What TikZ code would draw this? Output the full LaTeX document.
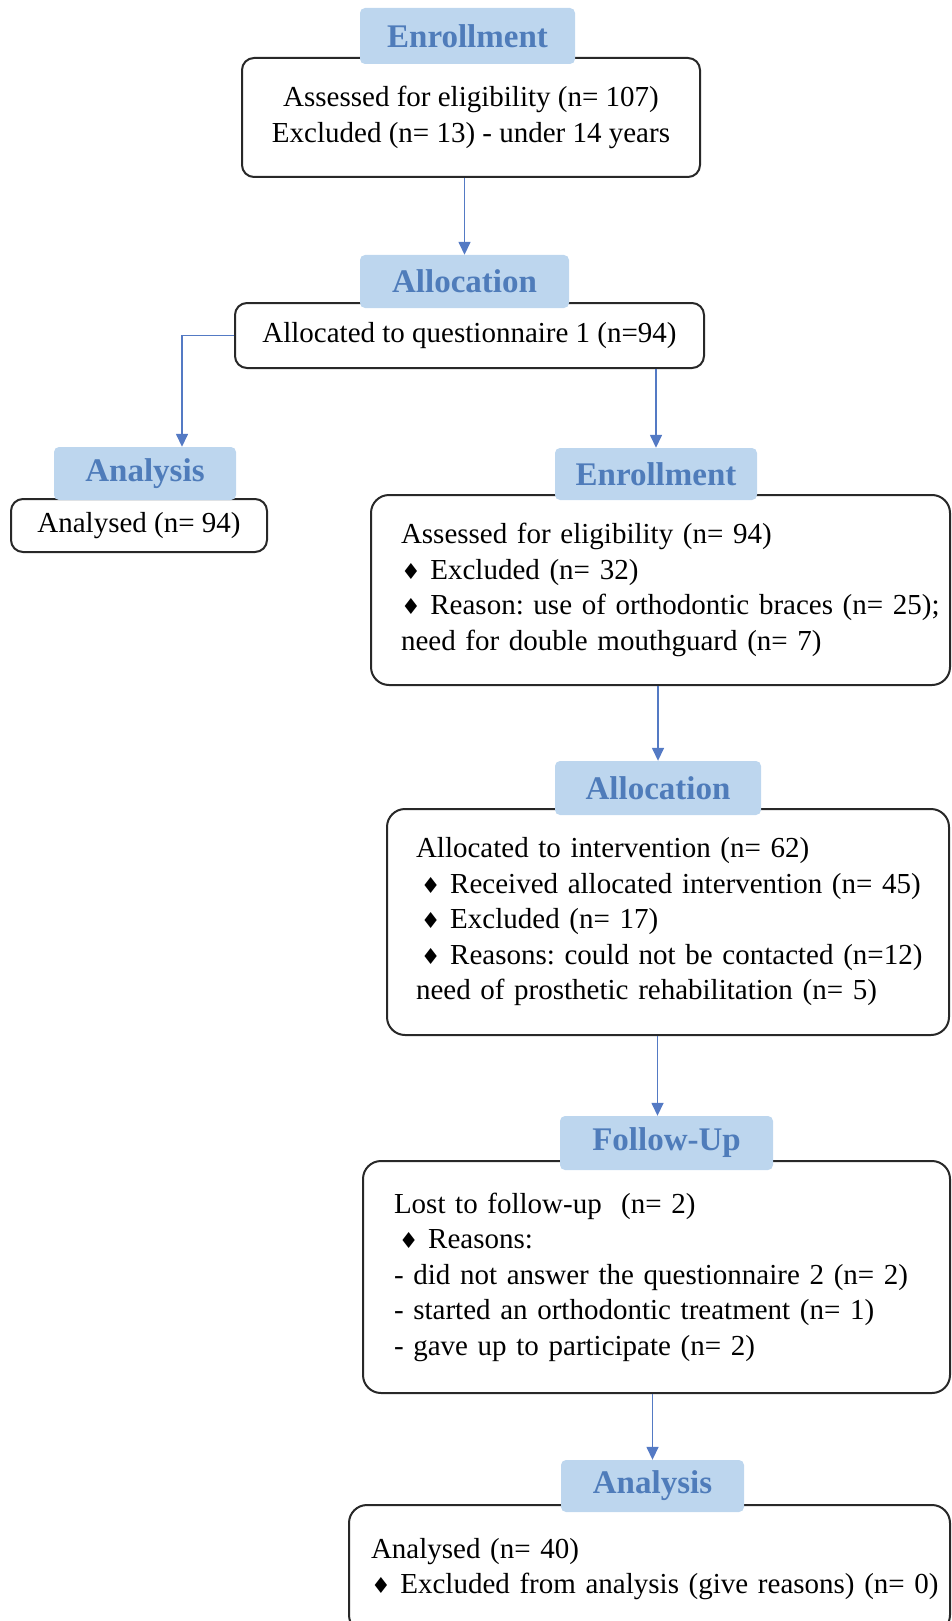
\documentclass[tikz,border=0pt]{standalone}
\usepackage{fontspec}
\setmainfont{Liberation Serif}
\newfontfamily\dejavu{DejaVu Sans}
\usetikzlibrary{arrows.meta,calc}
\frenchspacing
\definecolor{coedge}{RGB}{40,40,40}
\definecolor{cohead}{RGB}{189,214,238}
\definecolor{cohdtext}{RGB}{79,124,186}
\definecolor{coarrow}{RGB}{84,122,196}
\newcommand\boxfont{\fontsize{29}{35.5}\selectfont}
\newcommand\hdfont{\fontsize{33}{36}\selectfont\bfseries}
\newcommand\dia{{\dejavu\fontsize{22}{22}\selectfont ♦}}
\newcommand\lrow[1]{\makebox[\linewidth][l]{#1}}
\tikzset{
  cobox/.style={
    draw=coedge, line width=2pt, rounded corners=18pt,
    font=\boxfont, anchor=north west, inner ysep=0pt
  },
  cosmall/.style={cobox, rounded corners=12pt, align=center},
  colist/.style={cobox, align=left},
  hd/.style={
    fill=cohead, rounded corners=5pt, text=cohdtext,
    font=\hdfont, inner sep=0pt
  },
  arr/.style={-{Triangle[length=13pt,width=12pt]}, draw=coarrow, line width=1.5pt}
}
\begin{document}
\begin{tikzpicture}[x=1pt, y=-1pt]
  \useasboundingbox (0,0) rectangle (951,1621);
  \clip (0,0) rectangle (951,1621);
  % boxes
  \node[cosmall, minimum width=458pt, minimum height=119pt] (enr1) at (241,57)
    {Assessed for eligibility (n= 107)\\Excluded (n= 13) - under 14 years};
  \node[cosmall, minimum width=469pt, minimum height=65pt] (alc1) at (234,302)
    {Allocated to questionnaire 1 (n=94)};
  \node[cosmall, minimum width=256pt, minimum height=53pt] (ana1) at (10,498)
    {Analysed (n= 94)};
  \node[colist, inner xsep=30pt, text width=519pt, minimum height=190pt] (enr2) at (370,494)
    {\lrow{Assessed for eligibility (n= 94)}\\
     \lrow{\dia\ Excluded (n= 32)}\\
     \lrow{\dia\ Reason: use of orthodontic braces (n= 25);}\\
     \lrow{need for double mouthguard (n= 7)}};
  \node[colist, inner xsep=29pt, text width=504pt, minimum height=226pt] (alc2) at (386,808)
    {\lrow{Allocated to intervention (n= 62)}\\
     \lrow{\,\dia\ Received allocated intervention (n= 45)}\\
     \lrow{\,\dia\ Excluded (n= 17)}\\
     \lrow{\,\dia\ Reasons: could not be contacted (n=12)}\\
     \lrow{need of prosthetic rehabilitation (n= 5)}};
  \node[colist, inner xsep=31pt, text width=525pt, minimum height=232pt] (fup) at (362,1160)
    {\lrow{Lost to follow-up \ (n= 2)}\\
     \lrow{\,\dia\ Reasons:}\\
     \lrow{- did not answer the questionnaire 2 (n= 2)}\\
     \lrow{- started an orthodontic treatment (n= 1)}\\
     \lrow{- gave up to participate (n= 2)}};
  \node[colist, inner xsep=22pt, text width=557pt, minimum height=128pt] (ana2) at (348,1504)
    {\lrow{Analysed (n= 40)}\\
     \lrow{\dia\ Excluded from analysis (give reasons) (n= 0)}};
  % stage headers
  \node[hd, minimum width=215pt, minimum height=56pt] (hd1) at (467.5,36) {Enrollment};
  \node[hd, minimum width=209pt, minimum height=53pt] (hd2) at (464.5,281.5) {Allocation};
  \node[hd, minimum width=182pt, minimum height=53pt] (hd3) at (145,473.5) {Analysis};
  \node[hd, minimum width=202pt, minimum height=52pt] (hd4) at (656,474) {Enrollment};
  \node[hd, minimum width=206pt, minimum height=54pt] (hd5) at (658,788) {Allocation};
  \node[hd, minimum width=213pt, minimum height=54pt] (hd6) at (666.5,1143) {Follow-Up};
  \node[hd, minimum width=183pt, minimum height=52pt] (hd7) at (652.5,1486) {Analysis};
  % connectors
  \foreach \p/\q in {enr1/hd2,alc1/hd4,enr2/hd5,fup/hd7}
    \draw[arr] (\q.north |- \p.south) -- (\q.north);
  \draw[arr] ([xshift=-9pt]hd6.north |- alc2.south) -- ([xshift=-9pt]hd6.north);
  \draw[arr] (alc1.west) -| ([xshift=37pt]hd3.north);
\end{tikzpicture}
\end{document}
